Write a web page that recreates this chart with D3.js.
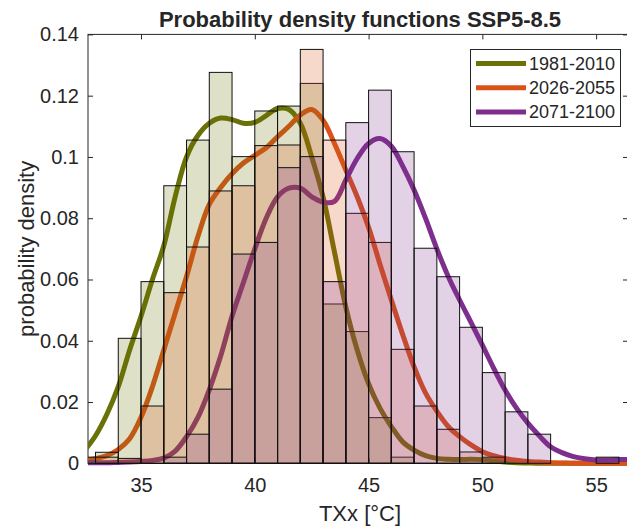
<!DOCTYPE html>
<html><head><meta charset="utf-8">
<script src="https://cdn.jsdelivr.net/npm/d3@7"></script>
<style>
body{margin:0;background:#fff}
svg{display:block}
text{font-family:"Liberation Sans",Arial,Helvetica,sans-serif;fill:#262626}
</style>
</head><body><svg id="c" width="627" height="526"></svg>
<script>
// ---------- data ----------
const seriesNames = ["1981-2010", "2026-2055", "2071-2100"];
const seriesColors = ["#6a7106", "#d95319", "#7e2f8e"];

// histogram bins (left edges, width 1 °C) and densities
const bins1 = [32, 33, 34, 35, 36, 37, 38, 39, 40, 41, 42, 43, 44, 45, 46];
const hist1 = [0.002, 0.0036, 0.0408, 0.0593, 0.0906, 0.1055, 0.1276, 0.1001, 0.115, 0.1166, 0.124, 0.052, 0.043, 0.0149, 0.002];

const bins2 = [33, 34, 35, 36, 37, 38, 39, 40, 41, 42, 43, 44, 45, 46, 47, 48, 49, 50];
const hist2 = [0.002, 0.0016, 0.0187, 0.0557, 0.0706, 0.0889, 0.0906, 0.1037, 0.1039, 0.1351, 0.1055, 0.0816, 0.0721, 0.0372, 0.0187, 0.0111, 0.0037, 0.002];

const bins3 = [36, 37, 38, 39, 40, 41, 42, 43, 44, 45, 46, 47, 48, 49, 50, 51, 52, 53, 54, 55];
const hist3 = [0.002, 0.0095, 0.0242, 0.0683, 0.0721, 0.0965, 0.1001, 0.0593, 0.1112, 0.1218, 0.1017, 0.0702, 0.0609, 0.0444, 0.0296, 0.0168, 0.0095, 0, 0, 0.002];

// smoothed density curves (sampled every 0.5 °C)
const curveX = [32.5, 33, 33.5, 34, 34.5, 35, 35.5, 36, 36.5, 37, 37.5, 38, 38.5, 39, 39.5, 40, 40.5, 41, 41.5, 42, 42.5, 43, 43.5, 44, 44.5, 45, 45.5, 46, 46.5, 47, 47.5, 48, 48.5, 49, 49.5, 50, 50.5, 51, 51.5, 52, 52.5, 53, 53.5, 54, 54.5, 55, 55.5, 56, 56.5];
const pdf1 = [0.004, 0.009, 0.016, 0.025, 0.037, 0.048, 0.060, 0.071, 0.087, 0.100, 0.107, 0.111, 0.1127, 0.1122, 0.111, 0.1113, 0.1135, 0.1158, 0.1155, 0.111, 0.100, 0.087, 0.069, 0.051, 0.037, 0.026, 0.018, 0.012, 0.007, 0.0043, 0.0025, 0.0016, 0.0013, 0.0012, 0.0013, 0.0012, 0.0008, 0.0004, 0.0002, 0.0001, 0, 0, 0, 0, 0, 0, 0, 0, 0];
const pdf2 = [0.001, 0.0015, 0.0025, 0.0045, 0.008, 0.015, 0.025, 0.037, 0.049, 0.061, 0.074, 0.0845, 0.090, 0.0945, 0.098, 0.1005, 0.103, 0.1066, 0.110, 0.1137, 0.1155, 0.112, 0.1044, 0.0957, 0.087, 0.077, 0.065, 0.0533, 0.042, 0.0315, 0.023, 0.017, 0.012, 0.0087, 0.006, 0.0038, 0.0025, 0.0016, 0.001, 0.0006, 0.0004, 0.0002, 0.0001, 0, 0, 0, 0, 0, 0];
const pdf3 = [0.0002, 0.0002, 0.0002, 0.0003, 0.0004, 0.0006, 0.0009, 0.0017, 0.004, 0.0087, 0.015, 0.024, 0.035, 0.048, 0.059, 0.070, 0.080, 0.087, 0.0898, 0.0898, 0.087, 0.0852, 0.0855, 0.0925, 0.0995, 0.1044, 0.106, 0.1035, 0.097, 0.0892, 0.080, 0.070, 0.061, 0.0533, 0.046, 0.0386, 0.031, 0.0239, 0.018, 0.0131, 0.009, 0.0054, 0.0035, 0.0022, 0.0015, 0.0011, 0.0011, 0.0012, 0.0013];

const xTicks = [35, 40, 45, 50, 55];
const yTicks = [0, 0.02, 0.04, 0.06, 0.08, 0.1, 0.12, 0.14];
const yTickLabels = ["0", "0.02", "0.04", "0.06", "0.08", "0.1", "0.12", "0.14"];

// ---------- layout ----------
const L = 88, R = 628, T = 34.4, B = 463.3;
const svg = d3.select("#c");
const x = d3.scaleLinear().domain([32.67, 56.4]).range([L, R]);
const y = d3.scaleLinear().domain([0, 0.14]).range([B, T]);
const axisCol = "#262626";

// frame
svg.append("rect").attr("x", L).attr("y", T).attr("width", R - L).attr("height", B - T)
  .attr("fill", "none").attr("stroke", axisCol).attr("stroke-width", 1);

function styleAxis(g) {
  g.select(".domain").remove();
  g.selectAll(".tick line").attr("stroke", axisCol);
  g.selectAll(".tick text").attr("fill", axisCol).attr("font-size", 20)
    .attr("font-family", '"Liberation Sans",Arial,sans-serif');
}
svg.append("g").attr("transform", `translate(0,${B})`)
  .call(d3.axisBottom(x).tickValues(xTicks).tickSize(-5).tickPadding(15).tickFormat(d3.format("d")))
  .call(styleAxis);
svg.append("g").attr("transform", `translate(0,${T})`)
  .call(d3.axisTop(x).tickValues(xTicks).tickSize(-5).tickFormat(""))
  .call(styleAxis);
svg.append("g").attr("transform", `translate(${L},0)`)
  .call(d3.axisLeft(y).tickValues(yTicks).tickSize(-5).tickPadding(9).tickFormat((d, i) => yTickLabels[i]))
  .call(styleAxis);
svg.append("g").attr("transform", `translate(${R},0)`)
  .call(d3.axisRight(y).tickValues(yTicks).tickSize(-5).tickFormat(""))
  .call(styleAxis);

// clip
svg.append("defs").append("clipPath").attr("id", "clip")
  .append("rect").attr("x", L).attr("y", T - 5).attr("width", R - L).attr("height", B - T + 10);

const plot = svg.append("g").attr("clip-path", "url(#clip)");

// curves (under the translucent bars)
const pdfs = [pdf1, pdf2, pdf3];
const line = d3.line().x(d => x(d[0])).y(d => y(d[1])).curve(d3.curveCatmullRom.alpha(0.5));
pdfs.forEach((p, s) => {
  plot.append("path").datum(curveX.map((v, i) => [v, p[i]]))
    .attr("d", line).attr("fill", "none").attr("stroke", seriesColors[s])
    .attr("stroke-width", 5).attr("stroke-linejoin", "round").attr("stroke-linecap", "round");
});

// histograms
const binsAll = [bins1, bins2, bins3];
const histAll = [hist1, hist2, hist3];
binsAll.forEach((bins, s) => {
  plot.append("g").selectAll("rect").data(bins.map((b, i) => ({ b, v: histAll[s][i] })))
    .join("rect")
    .attr("x", d => x(d.b)).attr("width", d => x(d.b + 1) - x(d.b))
    .attr("y", d => y(d.v)).attr("height", d => y(0) - y(d.v))
    .attr("fill", seriesColors[s]).attr("fill-opacity", 0.22)
    .attr("stroke", "#111").attr("stroke-width", 1);
});

// title & labels
svg.append("text").attr("x", (L + R) / 2 + 2).attr("y", 26.5).attr("text-anchor", "middle")
  .attr("font-size", 22).attr("font-weight", "bold").attr("fill", "#000")
  .text("Probability density functions SSP5-8.5");
svg.append("text").attr("x", (L + R) / 2 + 2).attr("y", 521).attr("text-anchor", "middle")
  .attr("font-size", 22).text("TXx [°C]");
svg.append("text").attr("transform", `translate(34,${(T + B) / 2}) rotate(-90)`)
  .attr("text-anchor", "middle").attr("font-size", 22).text("probability density");

// legend
const lg = svg.append("g");
lg.append("rect").attr("x", 470.5).attr("y", 49.5).attr("width", 150).attr("height", 77)
  .attr("fill", "#fff").attr("stroke", axisCol).attr("stroke-width", 1);
seriesNames.forEach((n, i) => {
  const yy = 63.5 + i * 24.2;
  lg.append("line").attr("x1", 476).attr("x2", 526).attr("y1", yy).attr("y2", yy)
    .attr("stroke", seriesColors[i]).attr("stroke-width", 5);
  lg.append("text").attr("x", 529).attr("y", yy).attr("dy", "0.36em")
    .attr("font-size", 18).attr("fill", "#000").text(n);
});
</script>
</body></html>
